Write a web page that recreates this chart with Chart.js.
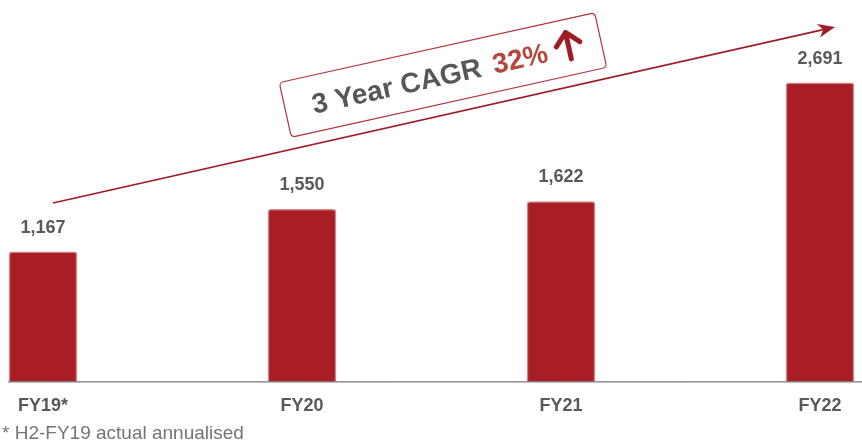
<!DOCTYPE html>
<html>
<head>
<meta charset="utf-8">
<script src="https://cdn.jsdelivr.net/npm/chart.js@4.4.1/dist/chart.umd.min.js"></script>
<style>
  html, body { margin: 0; padding: 0; background: #fff; }
  #wrap { width: 862px; height: 443px; position: relative; }
</style>
</head>
<body>
<div id="wrap"><canvas id="grafico"></canvas></div>
<script>
// datos
const periodos = ["FY19*", "FY20", "FY21", "FY22"];
const valores = [1167, 1550, 1622, 2691];
const cagrTexto = "3 Year CAGR";
const cagrValor = "32%";
const nota = "* H2-FY19 actual annualised";

const FUENTE = "'Liberation Sans', Arial, sans-serif";

// etiquetas, flecha, recuadro y nota
const decoracion = {
  id: "decoracion",
  afterDatasetsDraw(chart) {
    const ctx = chart.ctx;
    const meta = chart.getDatasetMeta(0);

    // linea base
    ctx.save();
    ctx.strokeStyle = "#555";
    ctx.lineWidth = 1;
    ctx.beginPath();
    ctx.moveTo(8, chart.chartArea.bottom + 0.5);
    ctx.lineTo(862, chart.chartArea.bottom + 0.5);
    ctx.stroke();

    // valores sobre las barras
    ctx.fillStyle = "#595959";
    ctx.font = "bold 18px " + FUENTE;
    ctx.textAlign = "center";
    ctx.textBaseline = "middle";
    meta.data.forEach((bar, i) => {
      ctx.fillText(valores[i].toLocaleString("en-US"), bar.x, bar.y - 24);
    });

    // flecha de tendencia
    const x0 = 53, y0 = 203, x1 = 835, y1 = 27;
    const ang = Math.atan2(y1 - y0, x1 - x0);
    ctx.strokeStyle = "#a01c2a";
    ctx.fillStyle = "#a01c2a";
    ctx.lineWidth = 1.6;
    ctx.beginPath();
    ctx.moveTo(x0, y0);
    ctx.lineTo(x1 - 12 * Math.cos(ang), y1 - 12 * Math.sin(ang));
    ctx.stroke();
    ctx.save();
    ctx.translate(x1, y1);
    ctx.rotate(ang);
    ctx.beginPath();
    ctx.moveTo(0, 0);
    ctx.lineTo(-17, -7);
    ctx.lineTo(-12, 0);
    ctx.lineTo(-17, 7);
    ctx.closePath();
    ctx.fill();
    ctx.restore();

    // recuadro CAGR
    ctx.save();
    ctx.translate(443, 75);
    ctx.rotate(-12.5 * Math.PI / 180);
    const w = 323, h = 56;
    ctx.beginPath();
    ctx.roundRect(-w / 2, -h / 2, w, h, 4);
    ctx.fillStyle = "#fff";
    ctx.fill();
    ctx.strokeStyle = "#b3323d";
    ctx.lineWidth = 1.2;
    ctx.stroke();

    ctx.textAlign = "left";
    ctx.textBaseline = "alphabetic";
    ctx.font = "bold 28px " + FUENTE;
    let x = -134;
    ctx.fillStyle = "#55575a";
    ctx.fillText(cagrTexto, x, 10);
    x += ctx.measureText(cagrTexto).width + 12;
    ctx.fillStyle = "#b7473c";
    ctx.fillText(cagrValor, x, 10);
    x += ctx.measureText(cagrValor).width + 22;

    // flecha hacia arriba
    ctx.strokeStyle = "#9d1c25";
    ctx.lineWidth = 5;
    ctx.lineCap = "round";
    ctx.lineJoin = "round";
    ctx.beginPath();
    ctx.moveTo(x, 12);
    ctx.lineTo(x, -15);
    ctx.moveTo(x - 12, -3);
    ctx.lineTo(x, -15);
    ctx.lineTo(x + 12, -3);
    ctx.stroke();
    ctx.restore();

    // nota al pie
    ctx.fillStyle = "#747474";
    ctx.font = "19px " + FUENTE;
    ctx.textAlign = "left";
    ctx.textBaseline = "middle";
    ctx.fillText(nota, 2, 434);
    ctx.restore();
  }
};

new Chart(document.getElementById("grafico"), {
  type: "bar",
  data: {
    labels: periodos,
    datasets: [{
      data: valores,
      backgroundColor: "#a81e24",
      borderColor: "rgba(196, 110, 112, 0.85)",
      borderWidth: 1.5,
      borderRadius: { topLeft: 3, topRight: 3 },
      borderSkipped: "bottom",
      barThickness: 68,
      clip: false
    }]
  },
  options: {
    responsive: true,
    maintainAspectRatio: false,
    animation: false,
    layout: { padding: { left: 43, right: 42, top: 0, bottom: 12 } },
    plugins: {
      legend: { display: false },
      tooltip: { enabled: false }
    },
    scales: {
      x: {
        offset: false,
        grid: { display: false, drawTicks: false },
        border: { display: false },
        ticks: {
          color: "#595959",
          font: { family: FUENTE, size: 18, weight: "bold" },
          padding: 14,
          maxRotation: 0,
          autoSkip: false
        }
      },
      y: {
        display: false,
        min: 0,
        max: 3438
      }
    }
  },
  plugins: [decoracion]
});
</script>
</body>
</html>
